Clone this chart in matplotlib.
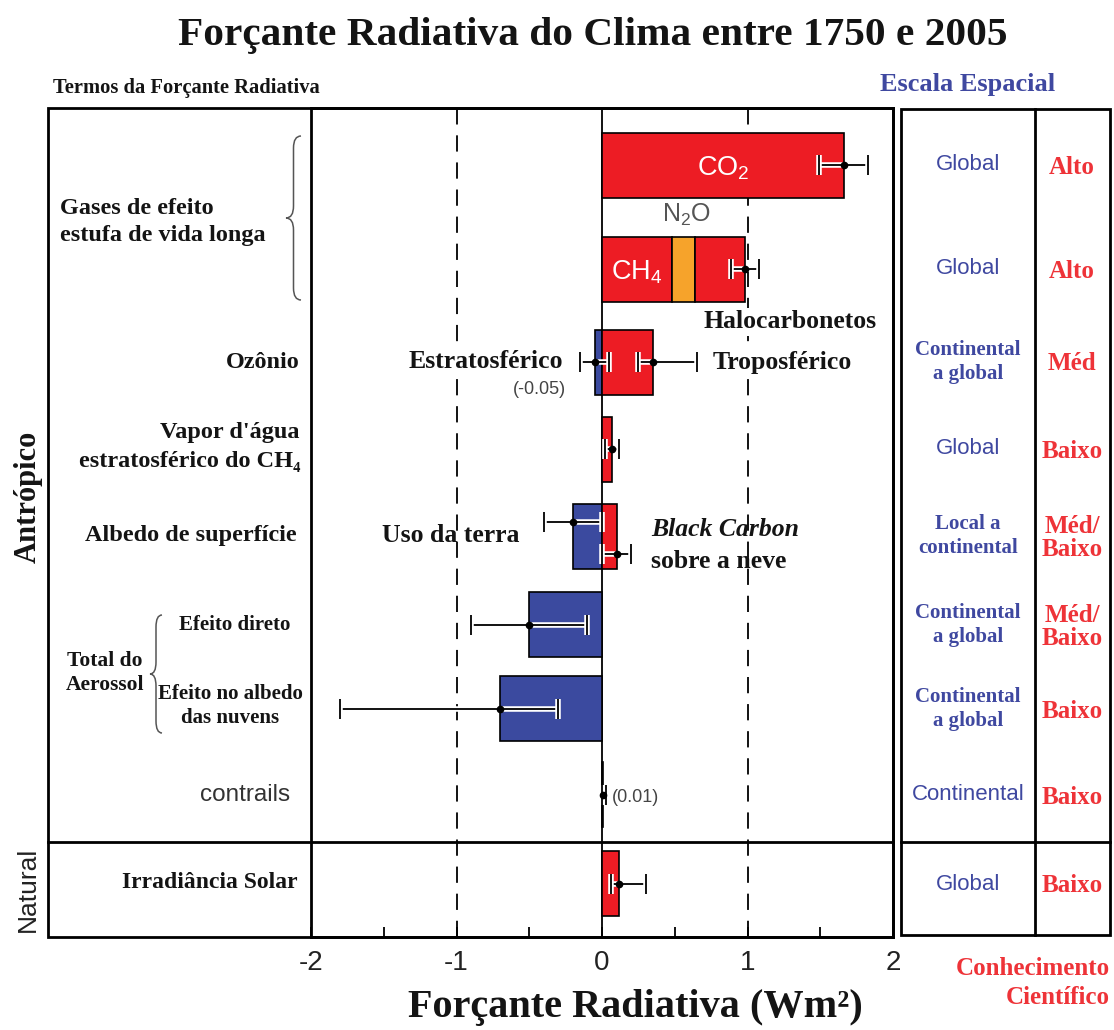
import matplotlib
matplotlib.use("Agg")
import matplotlib.pyplot as plt
import matplotlib.patheffects as pe
from matplotlib.path import Path
from matplotlib.patches import PathPatch, Rectangle

plt.rcParams["mathtext.fontset"] = "custom"
plt.rcParams["mathtext.rm"] = "Liberation Sans"
plt.rcParams["mathtext.it"] = "Liberation Sans:italic"
plt.rcParams["mathtext.bf"] = "Liberation Sans:bold"

SERIF = ["Liberation Serif", "DejaVu Serif"]
SANS = ["Liberation Sans", "DejaVu Sans"]

# --------------------------------------------------------------------------
# dados (W m-2)

componentes = ["CO2", "CH4", "N2O", "Halocarbonetos", "O3 estratosférico",
               "O3 troposférico", "H2O estratosférico", "Uso da terra",
               "Black carbon", "Aerossol direto", "Albedo das nuvens",
               "Contrails", "Irradiância solar"]
forcante = [1.66, 0.48, 0.16, 0.34, -0.05, 0.35, 0.07, -0.20, 0.10,
            -0.50, -0.70, 0.01, 0.12]
linha = [0, 1, 1, 1, 2, 2, 3, 4, 4, 5, 6, 7, 8]

# barras de erro (valor central, minimo, maximo)
erro_valor = [1.66, 0.98, -0.05, 0.35, 0.07, -0.20, 0.10, -0.50, -0.70, 0.01, 0.12]
erro_min = [1.49, 0.89, -0.15, 0.25, 0.02, -0.40, 0.00, -0.90, -1.80, 0.003, 0.06]
erro_max = [1.83, 1.08, 0.05, 0.65, 0.12, 0.00, 0.20, -0.10, -0.30, 0.03, 0.30]
erro_linha = [0, 1, 2, 2, 3, 4, 4, 5, 6, 7, 8]

escala = ["Global", "Global", "Continental\na global", "Global",
          "Local a\ncontinental", "Continental\na global",
          "Continental\na global", "Continental", "Global"]
conhecimento = ["Alto", "Alto", "Méd", "Baixo", "Méd/\nBaixo", "Méd/\nBaixo",
                "Baixo", "Baixo", "Baixo"]
ticks = [-2, -1, 0, 1, 2]
tick_labels = ["-2", "-1", "0", "1", "2"]

# --------------------------------------------------------------------------
# layout (pixels)

W, H = 1114, 1030
y_linha = [165, 269, 362, 449, 536, 625, 709, 795, 884]
alt_barra = 65
desloc_erro = [0, 0, 0, 0, 0, -14, 18, 0, 0, 0, 0]

VERMELHO = "#ED1C24"
AZUL = "#3B4A9F"
LARANJA = "#F6A32B"
TXT_AZUL = "#3F48A0"
TXT_VERM = "#EE3338"
PRETO = "#141414"

fig = plt.figure(figsize=(W / 100, H / 100), dpi=100)

x0, x1, y_top, y_bot = 311, 893, 108, 937
ax = fig.add_axes([x0 / W, (H - y_bot) / H, (x1 - x0) / W, (y_bot - y_top) / H])
ax.set_xlim(-2, 2)
ax.set_ylim(y_bot, y_top)

# barras
pos = {}
neg = {}
for nome, f, r in zip(componentes, forcante, linha):
    if nome == "N2O":
        cor = LARANJA
    else:
        cor = VERMELHO if f > 0 else AZUL
    base = pos.get(r, 0) if f > 0 else neg.get(r, 0)
    ax.barh(y_linha[r], f, left=base, height=alt_barra, color=cor,
            edgecolor="black", linewidth=1.2, zorder=3)
    if f > 0:
        pos[r] = base + f
    else:
        neg[r] = base + f

# linhas de referencia
ax.axvline(0, color="black", lw=1.3, zorder=2)
for xv in (-1, 1):
    ax.axvline(xv, color="black", lw=1.3, ls=(0, (9, 6)), zorder=1)

# barras de erro
for v, lo, hi, r, d in zip(erro_valor, erro_min, erro_max, erro_linha, desloc_erro):
    eb = ax.errorbar(v, y_linha[r] + d, xerr=[[v - lo], [hi - v]], fmt="o",
                     color="black", ms=4.5, capsize=7, elinewidth=1.3,
                     capthick=1.3, zorder=5)
    efeito = [pe.Stroke(linewidth=4, foreground="white"), pe.Normal()]
    for art in list(eb.lines[1]) + list(eb.lines[2]):
        art.set_path_effects(efeito)

ax.set_yticks([])
ax.set_xticks(ticks)
ax.set_xticklabels(tick_labels, family=SANS, fontsize=20, color="#222222")
ax.set_xticks([-1.5, -0.5, 0.5, 1.5], minor=True)
ax.tick_params(axis="x", which="both", direction="in", length=7, width=1.3, pad=9)
for s in ax.spines.values():
    s.set_linewidth(2)

# --------------------------------------------------------------------------
# camada de texto e tabelas em pixels

bg = fig.add_axes([0, 0, 1, 1], zorder=10)
bg.set_xlim(0, W)
bg.set_ylim(H, 0)
bg.axis("off")
bg.patch.set_alpha(0)

bg.add_patch(Rectangle((48, y_top), x1 - 48, y_bot - y_top, fill=False, lw=2, ec="black"))
bg.plot([48, x1], [842, 842], color="black", lw=2)
bg.add_patch(Rectangle((901, 109), 1110 - 901, 935 - 109, fill=False, lw=2, ec="black"))
bg.plot([1035, 1035], [109, 935], color="black", lw=2)
bg.plot([901, 1110], [842, 842], color="black", lw=2)


def chave(x_ponta, x_fim, ya, yb):
    ym = (ya + yb) / 2
    xm = (x_ponta + x_fim) / 2
    r = 12
    verts = [(x_fim, ya), (xm, ya), (xm, ya + r), (xm, ym - r), (xm, ym),
             (x_ponta, ym), (xm, ym), (xm, ym + r), (xm, yb - r), (xm, yb),
             (x_fim, yb)]
    codes = [Path.MOVETO, Path.CURVE3, Path.CURVE3, Path.LINETO, Path.CURVE3,
             Path.CURVE3, Path.CURVE3, Path.CURVE3, Path.LINETO, Path.CURVE3,
             Path.CURVE3]
    bg.add_patch(PathPatch(Path(verts, codes), fill=False, lw=1.1, ec="#555555"))


chave(286, 301, 136, 300)
chave(150, 162, 615, 733)

serif_b = dict(family=SERIF, weight="bold", color=PRETO)

bg.text(593, 35, "Forçante Radiativa do Clima entre 1750 e 2005", ha="center",
        va="center", fontsize=29.7, **serif_b)
bg.text(53, 88, "Termos da Forçante Radiativa", ha="left", va="center",
        fontsize=14.8, **serif_b)
bg.text(968, 85, "Escala Espacial", ha="center", va="center", fontsize=19,
        family=SERIF, weight="bold", color=TXT_AZUL)
bg.text(1110, 983, "Conhecimento\nCientífico", ha="right", va="center",
        fontsize=18, family=SERIF, weight="bold", color=TXT_VERM, linespacing=1.3)
bg.text(635, 1008, "Forçante Radiativa (Wm²)", ha="center", va="center",
        fontsize=29, **serif_b)

bg.text(28, 497, "Antrópico", rotation=90, ha="center", va="center", fontsize=22, **serif_b)
bg.text(28, 889, "Natural", rotation=90, ha="center", va="center", fontsize=19,
        family=SANS, color="#222222")

# rotulos da esquerda
bg.text(60, 222, "Gases de efeito\nestufa de vida longa", ha="left", va="center",
        fontsize=17.5, linespacing=1.4, **serif_b)
bg.text(300, 362, "Ozônio", ha="right", va="center", fontsize=17.5, **serif_b)
bg.text(300, 447, "Vapor d'água\nestratosférico do CH₄", ha="right", va="center",
        fontsize=17.5, linespacing=1.45, multialignment="right", **serif_b)
bg.text(297, 536, "Albedo de superfície", ha="right", va="center", fontsize=17.5, **serif_b)
bg.text(105, 673, "Total do\nAerossol", ha="center", va="center", fontsize=15.5,
        linespacing=1.3, **serif_b)
bg.text(235, 625, "Efeito direto", ha="center", va="center", fontsize=15, **serif_b)
bg.text(230, 706, "Efeito no albedo\ndas nuvens", ha="center", va="center",
        fontsize=15, linespacing=1.3, **serif_b)
bg.text(290, 795, "contrails", ha="right", va="center", fontsize=17.5,
        family=SANS, color="#333333")
bg.text(298, 883, "Irradiância Solar", ha="right", va="center", fontsize=17, **serif_b)

# rotulos dentro do grafico
bg.text(723, 168, "CO$_2$", ha="center", va="center", fontsize=19.5, family=SANS, color="white")
bg.text(637, 272, "CH$_4$", ha="center", va="center", fontsize=19.5, family=SANS, color="white")
bg.text(686, 215, "N$_2$O", ha="center", va="center", fontsize=18, family=SANS, color="#555555")
fundo = dict(facecolor="white", edgecolor="none", pad=2)
bg.text(790, 322, "Halocarbonetos", ha="center", va="center", fontsize=18.5,
        bbox=fundo, **serif_b)
bg.text(563, 362, "Estratosférico", ha="right", va="center", fontsize=18.5,
        bbox=fundo, **serif_b)
bg.text(539, 390, "(-0.05)", ha="center", va="center", fontsize=13, family=SANS,
        color="#444444")
bg.text(713, 362, "Troposférico", ha="left", va="center", fontsize=18.5,
        bbox=fundo, **serif_b)
bg.text(520, 535, "Uso da terra", ha="right", va="center", fontsize=18.5, **serif_b)
bg.text(651, 530, "Black Carbon", ha="left", va="center", fontsize=18.5,
        family=SERIF, weight="bold", style="italic", color=PRETO)
bg.text(651, 561, "sobre a neve", ha="left", va="center", fontsize=18.5, **serif_b)
bg.text(612, 797, "(0.01)", ha="left", va="center", fontsize=13, family=SANS,
        color="#444444")

# tabela da direita
for y, txt in zip(y_linha, escala):
    if "\n" in txt:
        bg.text(968, y, txt, ha="center", va="center", fontsize=15, family=SERIF,
                weight="bold", color=TXT_AZUL, linespacing=1.25)
    else:
        bg.text(968, y, txt, ha="center", va="center", fontsize=16,
                family=SANS, color=TXT_AZUL)
for y, txt in zip(y_linha, conhecimento):
    bg.text(1072, y + 2, txt, ha="center", va="center", fontsize=18, family=SERIF,
            weight="bold", color=TXT_VERM, linespacing=1.05)

fig.savefig("out.png", dpi=100)
